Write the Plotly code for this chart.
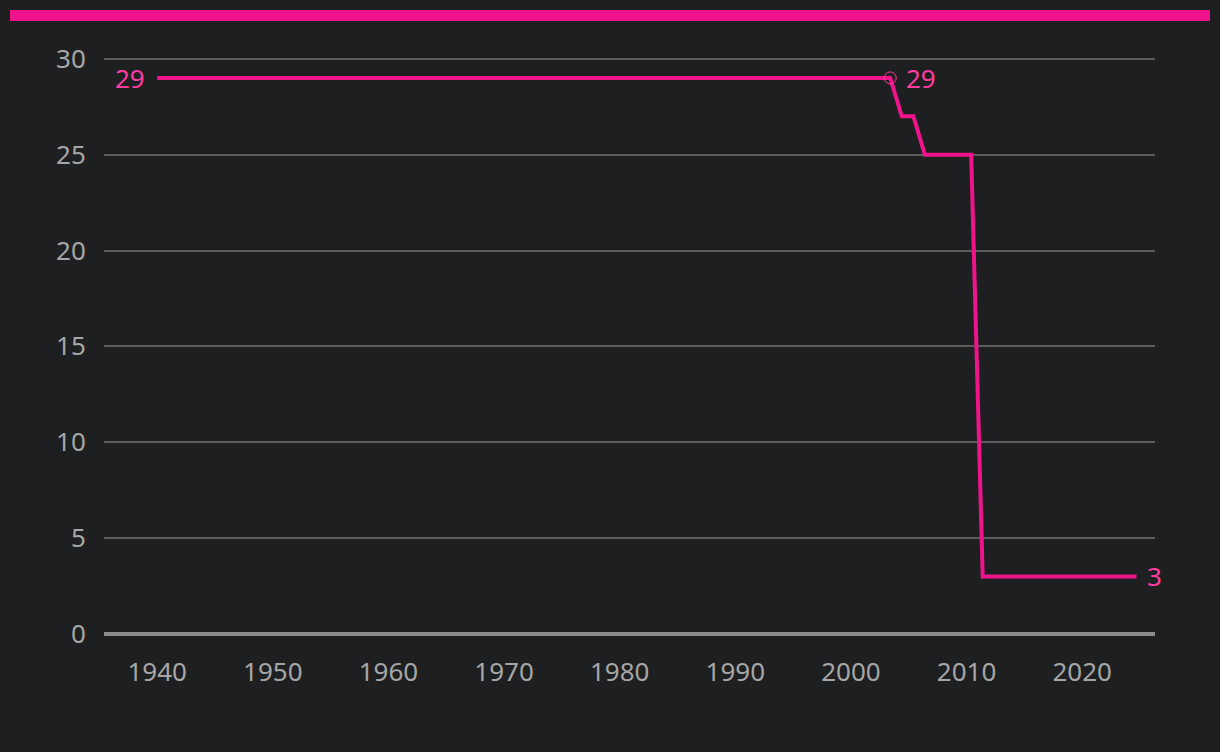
import plotly.graph_objects as go

years = [1940.0, 2003.4, 2004.4, 2005.4, 2006.4, 2010.4, 2011.4, 2024.7]
values = [29, 29, 27, 27, 25, 25, 3, 3]
x_ticks = [1940, 1950, 1960, 1970, 1980, 1990, 2000, 2010, 2020]
y_ticks = [0, 5, 10, 15, 20, 25, 30]

PINK = "#f0148c"
LABEL_PINK = "#ff3d9f"
BG = "#1e1f21"
TICK = "#a6a6a6"
FONT = "Noto Sans"
FS = 26

TOP = 53
BOTTOM = 118
PLOT_H = 752 - TOP - BOTTOM
ZERO_Y = 752 - BOTTOM

fig = go.Figure()
fig.add_trace(go.Scatter(x=years, y=values, mode="lines",
                         line=dict(color=PINK, width=4), hoverinfo="skip",
                         showlegend=False))
fig.add_trace(go.Scatter(x=[years[1]], y=[values[1]], mode="markers",
                         marker=dict(symbol="circle-open", size=12,
                                     color=LABEL_PINK, line=dict(width=1)),
                         showlegend=False, hoverinfo="skip"))

ann = [
    dict(x=years[0], y=values[0], text=str(values[0]), xanchor="right", xshift=-10),
    dict(x=years[1], y=values[1], text=str(values[1]), xanchor="left", xshift=14),
    dict(x=years[-1], y=values[-1], text=str(values[-1]), xanchor="left", xshift=8),
]
for a in ann:
    fig.add_annotation(x=a["x"], y=a["y"], text=a["text"], showarrow=False,
                       xanchor=a["xanchor"], yanchor="middle", xshift=a["xshift"],
                       font=dict(family=FONT, size=FS, color=LABEL_PINK))

fig.add_shape(type="rect", xref="paper", yref="paper",
              x0=(10 - 104) / 1051, x1=(1210 - 104) / 1051,
              y0=(ZERO_Y - 10) / PLOT_H, y1=(ZERO_Y - 21) / PLOT_H,
              fillcolor=PINK, line=dict(width=0), layer="above")

fig.update_layout(
    width=1220, height=752,
    paper_bgcolor=BG, plot_bgcolor=BG,
    margin=dict(l=104, r=65, t=TOP, b=BOTTOM),
    font=dict(family=FONT, size=FS, color=TICK),
    xaxis=dict(range=[1935.4, 2026.3], tickvals=x_ticks,
               showgrid=False, zeroline=False, showline=False,
               ticks="outside", ticklen=15, tickcolor="rgba(0,0,0,0)",
               tickfont=dict(size=FS, color=TICK)),
    yaxis=dict(range=[0, 30.3], tickvals=y_ticks, showgrid=True,
               gridcolor="#5c5c5c", gridwidth=1.5, zeroline=True,
               zerolinecolor="#8c8c8c", zerolinewidth=4,
               ticks="outside", ticklen=12, tickcolor="rgba(0,0,0,0)",
               tickfont=dict(size=FS, color=TICK)),
)

fig.write_html("out.html", config={"displayModeBar": False},
               post_script="document.body.style.margin='0';")
